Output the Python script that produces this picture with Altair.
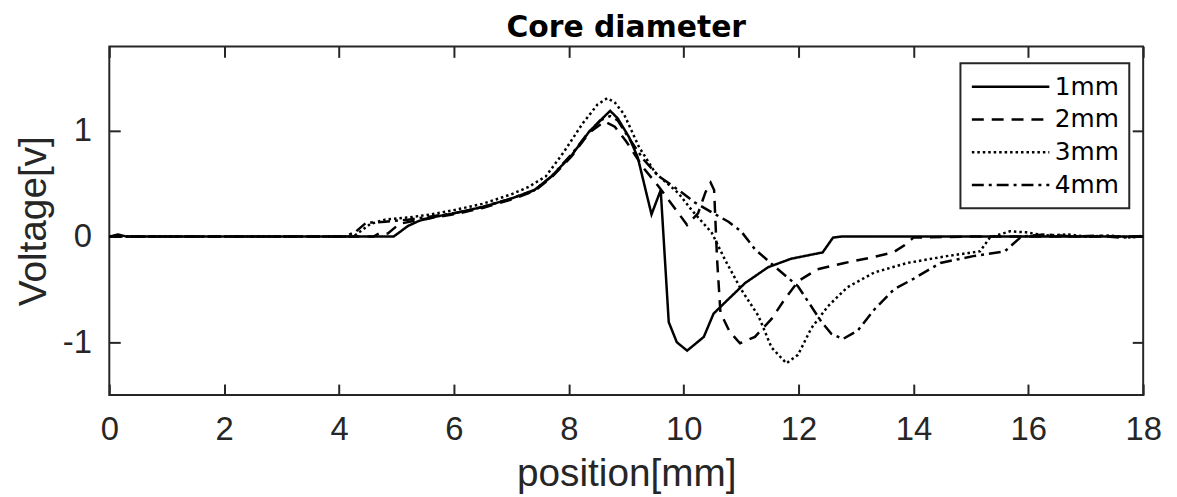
import altair as alt
import pandas as pd

series = ["1mm", "2mm", "3mm", "4mm"]

x_1mm = [0, 0.15, 0.3, 1, 2, 3, 4, 4.95, 5.2, 5.4, 5.7, 6.0, 6.5, 7.0, 7.4, 7.7, 8.05, 8.35, 8.55, 8.72,
         8.85, 9.05, 9.2, 9.44, 9.6, 9.74, 9.88, 10.06, 10.35, 10.52, 10.66, 11.07, 11.47, 11.87,
         12.42, 12.6, 12.75, 13.5, 14.5, 15.5, 16.5, 17.5, 18]
v_1mm = [0, 0.02, 0, 0, 0, 0, 0, 0, 0.1, 0.15, 0.19, 0.22, 0.28, 0.36, 0.44, 0.57, 0.77, 0.99, 1.1, 1.19,
         1.12, 0.94, 0.75, 0.21, 0.44, -0.81, -1.0, -1.08, -0.95, -0.73, -0.655, -0.44, -0.29, -0.21,
         -0.15, -0.01, 0, 0, 0, 0, 0, 0, 0]

x_2mm = [0, 1, 2, 3, 4, 4.6, 4.7, 4.85, 5.05, 5.4, 6.0, 6.5, 7.0, 7.4, 7.7, 8.05, 8.35, 8.62, 8.8, 9.0,
         9.3, 9.57, 10.06, 10.25, 10.38, 10.47, 10.53, 10.58, 10.64, 10.8, 10.98, 11.24, 11.53, 11.75, 12.0,
         12.33, 12.8, 13.25, 13.65, 13.85, 14.0, 15, 16, 17, 18]
v_2mm = [0, 0, 0, 0, 0, 0, 0.03, 0.03, 0.12, 0.16, 0.21, 0.27, 0.35, 0.43, 0.56, 0.76, 0.98, 1.09, 1.04, 0.9,
         0.65, 0.47, 0.11, 0.22, 0.42, 0.51, 0.44, -0.2, -0.72, -0.9, -1.01, -0.95, -0.78, -0.6, -0.42,
         -0.31, -0.25, -0.2, -0.15, -0.08, -0.01, 0, 0, 0, 0]

x_3mm = [0, 1, 2, 3, 4, 4.25, 4.4, 4.55, 4.8, 5.2, 5.6, 6.0, 6.5, 7.0, 7.3, 7.6, 7.9, 8.24, 8.5, 8.67,
         8.8, 8.96, 9.22, 9.51, 9.91, 10.14, 10.49, 10.72, 11.0, 11.3, 11.53, 11.79, 11.99, 12.22, 12.51,
         12.85, 13.32, 13.89, 14.58, 15.16, 15.33, 15.5, 15.68, 15.96, 16.3, 16.7, 17.0, 17.4, 17.8, 18]
v_3mm = [0, 0, 0, 0, 0, 0.0, 0.06, 0.12, 0.16, 0.18, 0.21, 0.25, 0.31, 0.4, 0.47, 0.57, 0.79, 1.07, 1.25, 1.31,
         1.27, 1.16, 0.85, 0.6, 0.41, 0.25, 0.035, -0.22, -0.5, -0.75, -1.05, -1.2, -1.12, -0.87, -0.66,
         -0.48, -0.34, -0.25, -0.185, -0.14, -0.01, 0.02, 0.05, 0.04, 0.01, 0.02, 0.0, 0.01, -0.01, 0.01]

x_4mm = [0, 1, 2, 3, 4, 4.1, 4.3, 4.47, 4.8, 5.2, 5.6, 6.0, 6.5, 7.0, 7.4, 7.7, 8.05, 8.35, 8.55, 8.72,
         8.85, 9.05, 9.3, 9.57, 9.91, 10.2, 10.52, 10.78, 11.0, 11.24, 11.64, 11.99, 12.22, 12.39, 12.57,
         12.77, 13.03, 13.32, 13.66, 14.0, 14.47, 15.04, 15.59, 15.88, 16.3, 16.8, 17.2, 17.6, 18]
v_4mm = [0, 0, 0, 0, 0, 0.0, 0.05, 0.13, 0.14, 0.16, 0.19, 0.22, 0.28, 0.36, 0.44, 0.57, 0.78, 0.99, 1.1, 1.14,
         1.1, 0.93, 0.73, 0.57, 0.44, 0.32, 0.22, 0.14, 0.05, -0.12, -0.31, -0.47, -0.66, -0.8, -0.92,
         -0.97, -0.89, -0.69, -0.5, -0.4, -0.25, -0.185, -0.14, 0.0, 0.02, 0.0, 0.01, -0.01, 0.0]

x_ticks = [0, 2, 4, 6, 8, 10, 12, 14, 16, 18]
y_ticks = [-1, 0, 1]
dash_styles = [[1, 0], [12, 8], [2.5, 3], [12, 5, 3, 5]]

frames = []
for name, xs, vs in zip(series, [x_1mm, x_2mm, x_3mm, x_4mm], [v_1mm, v_2mm, v_3mm, v_4mm]):
    frames.append(pd.DataFrame({"position": xs, "voltage": vs, "series": name}))
df = pd.concat(frames, ignore_index=True)

xscale = alt.Scale(domain=[0, 18], nice=False)
yscale = alt.Scale(domain=[-1.5, 1.8], nice=False)

lines = alt.Chart(df).mark_line(color="black", strokeWidth=2.5, clip=True).encode(
    x=alt.X("position:Q", scale=xscale,
            axis=alt.Axis(orient="bottom", values=x_ticks, title="position[mm]", offset=-11,
                          tickSize=11, labelPadding=19, titlePadding=8, labelFlush=False,
                          labelExpr="datum.value + ''", grid=False, domain=False)),
    y=alt.Y("voltage:Q", scale=yscale,
            axis=alt.Axis(orient="left", values=y_ticks, title="Voltage[v]", offset=-11,
                          tickSize=11, labelPadding=18, titlePadding=9, labelFlush=False,
                          labelExpr="datum.value + ''", grid=False, domain=False)),
    strokeDash=alt.StrokeDash("series:N",
                              scale=alt.Scale(domain=series, range=dash_styles),
                              legend=alt.Legend(title=None, orient="none", legendX=857, legendY=17,
                                                strokeColor="#262626", fillColor="white",
                                                padding=10, rowPadding=6,
                                                symbolType="M-1,0H5.5", symbolSize=576,
                                                symbolStrokeWidth=2.5, symbolStrokeColor="black",
                                                labelFont="DejaVu Sans", labelFontSize=25,
                                                labelColor="black", labelOffset=58)),
)

frame = alt.Chart(df).mark_line(strokeOpacity=0).encode(
    x=alt.X("position:Q", scale=xscale,
            axis=alt.Axis(orient="top", values=x_ticks, title=None, labels=False, offset=-11,
                          tickSize=11, grid=False, domain=False)),
    y=alt.Y("voltage:Q", scale=yscale,
            axis=alt.Axis(orient="right", values=y_ticks, title=None, labels=False, offset=-11,
                          tickSize=11, grid=False, domain=False)),
)

chart = alt.layer(lines, frame).resolve_axis(x="independent", y="independent").properties(
    width=1041, height=351,
    autosize=alt.AutoSizeParams(type="none"),
    padding={"left": 102, "top": 37, "right": 26, "bottom": 100},
    background="white",
    title=alt.TitleParams("Core diameter", font="DejaVu Sans", fontSize=30, fontWeight="bold",
                          anchor="middle", color="black", baseline="top", offset=2),
).configure_view(stroke="#262626", strokeWidth=2).configure_axis(
    labelFont="Liberation Sans", labelFontSize=33, labelColor="#262626",
    titleFont="Liberation Sans", titleFontSize=39, titleFontWeight="normal", titleColor="#262626",
    tickColor="#262626", tickWidth=2,
).configure_legend(strokeWidth=2)

chart.save("out.html", embed_options={"renderer": "svg", "actions": False})
